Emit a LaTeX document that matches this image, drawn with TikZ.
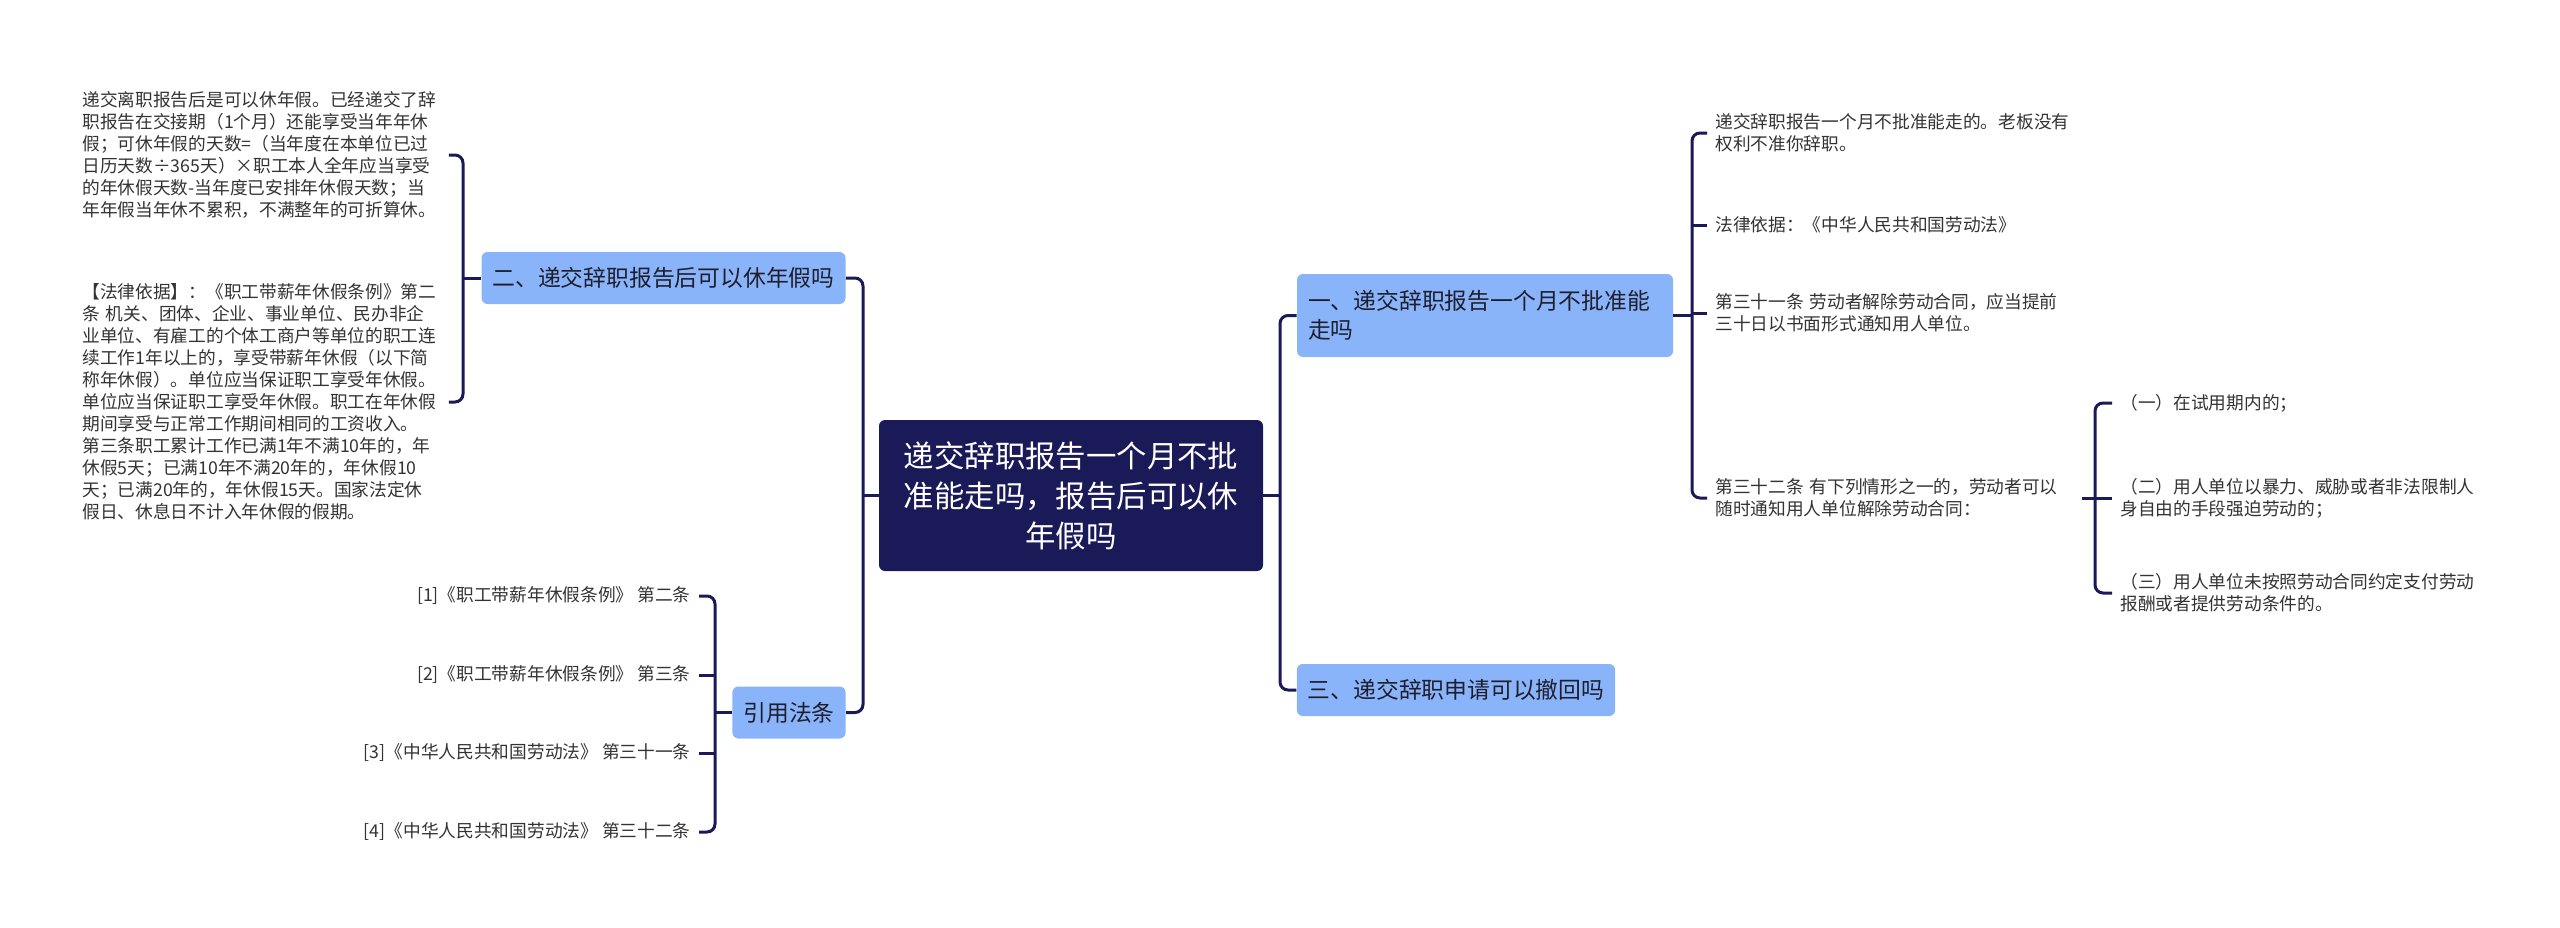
\documentclass[tikz,border=0pt]{standalone}
\usepackage{fontspec}
\setmainfont{Noto Sans CJK SC}
\definecolor{navy}{RGB}{27,26,88}
\definecolor{lblue}{RGB}{138,180,250}
\definecolor{ltxt}{RGB}{51,51,51}
\definecolor{btxt}{RGB}{30,30,45}
\begin{document}
\begin{tikzpicture}[x=0.5pt,y=-0.5pt,
  conn/.style={draw=navy,line width=1.5pt,rounded corners=4pt},
  rootbox/.style={fill=navy,draw=none,rounded corners=3pt,text=white,align=center,
    minimum width=192pt,minimum height=75.5pt,inner sep=0pt,
    font=\fontsize{15.2pt}{20pt}\selectfont},
  lvlbox/.style={fill=lblue,draw=none,rounded corners=3pt,text=btxt,
    minimum height=26pt,inner xsep=5.5pt,inner ysep=0pt,
    font=\fontsize{11.4pt}{14.5pt}\selectfont},
  leaf/.style={text=ltxt,align=left,text width=179pt,inner xsep=4pt,inner ysep=0pt,
    font=\fontsize{8.85pt}{11pt}\selectfont},
  cite/.style={text=ltxt,inner xsep=4pt,inner ysep=0pt,anchor=east,
    font=\fontsize{8.85pt}{11pt}\selectfont}
]
\useasboundingbox (0,0) rectangle (2560,927);
\fill[white] (0,0) rectangle (2560,927);

% trunk x positions
\coordinate (tL2) at (463,0);
\coordinate (tC) at (715,0);
\coordinate (tL1) at (863,0);
\coordinate (tR) at (1280,0);
\coordinate (tR1) at (1692,0);
\coordinate (tR2) at (2095,0);

% root
\node[rootbox] (root) at (1071,495.5) {递交辞职报告一个月不批\\准能走吗，报告后可以休\\年假吗};

% level 1
\node[lvlbox,minimum width=181.5pt] (er) at (663.5,278) {二、递交辞职报告后可以休年假吗};
\node[lvlbox,minimum width=56pt] (yy) at (789,712.5) {引用法条};
\node[lvlbox,minimum height=41.5pt,text width=177pt,align=left] (yi) at (1485,315.5) {一、递交辞职报告一个月不批准能\\走吗};
\node[lvlbox,minimum width=159pt] (san) at (1456,690) {三、递交辞职申请可以撤回吗};

% left leaves
\node[leaf,anchor=west] (lA) at (74,155) {递交离职报告后是可以休年假。已经递交了辞\\职报告在交接期（1个月）还能享受当年年休\\假；可休年假的天数=（当年度在本单位已过\\日历天数÷365天）×职工本人全年应当享受\\的年休假天数-当年度已安排年休假天数；当\\年年假当年休不累积，不满整年的可折算休。};
\node[leaf,anchor=west] (lB) at (74,402) {【法律依据】：《职工带薪年休假条例》第二\\条 机关、团体、企业、事业单位、民办非企\\业单位、有雇工的个体工商户等单位的职工连\\续工作1年以上的，享受带薪年休假（以下简\\称年休假）。单位应当保证职工享受年休假。\\单位应当保证职工享受年休假。职工在年休假\\期间享受与正常工作期间相同的工资收入。\\第三条职工累计工作已满1年不满10年的，年\\休假5天；已满10年不满20年的，年休假10\\天；已满20年的，年休假15天。国家法定休\\假日、休息日不计入年休假的假期。};

% citations
\node[cite] (c1) at (699,596) {[1]《职工带薪年休假条例》 第二条};
\node[cite] (c2) at (699,675) {[2]《职工带薪年休假条例》 第三条};
\node[cite] (c3) at (699,753) {[3]《中华人民共和国劳动法》 第三十一条};
\node[cite] (c4) at (699,832) {[4]《中华人民共和国劳动法》 第三十二条};

% right leaves
\node[leaf,anchor=west] (r1) at (1707,133) {递交辞职报告一个月不批准能走的。老板没有\\权利不准你辞职。};
\node[leaf,anchor=west] (r2) at (1707,225) {法律依据：《中华人民共和国劳动法》};
\node[leaf,anchor=west] (r3) at (1707,313) {第三十一条 劳动者解除劳动合同，应当提前\\三十日以书面形式通知用人单位。};
\node[leaf,anchor=west] (r4) at (1707,498) {第三十二条 有下列情形之一的，劳动者可以\\随时通知用人单位解除劳动合同：};

% sub leaves
\node[leaf,anchor=west] (s1) at (2112,403) {（一）在试用期内的；};
\node[leaf,anchor=west] (s2) at (2112,498) {（二）用人单位以暴力、威胁或者非法限制人\\身自由的手段强迫劳动的；};
\node[leaf,anchor=west] (s3) at (2112,593) {（三）用人单位未按照劳动合同约定支付劳动\\报酬或者提供劳动条件的。};

% connectors: left
\draw[conn] (lA.east) -- (lA.east -| tL2) -- (lB.east -| tL2) -- (lB.east);
\draw[conn] (er.west) -- (er.west -| tL2);

\draw[conn] (c1.east) -- (c1.east -| tC) -- (c4.east -| tC) -- (c4.east);
\draw[conn] (c2.east) -- (c2.east -| tC);
\draw[conn] (c3.east) -- (c3.east -| tC);
\draw[conn] (yy.west) -- (yy.west -| tC);

\draw[conn] (er.east) -- (er.east -| tL1) -- (yy.east -| tL1) -- (yy.east);
\draw[conn] (root.west) -- (root.west -| tL1);

% connectors: right
\draw[conn] (yi.west) -- (yi.west -| tR) -- (san.west -| tR) -- (san.west);
\draw[conn] (root.east) -- (root.east -| tR);

\draw[conn] (r1.west) -- (r1.west -| tR1) -- (r4.west -| tR1) -- (r4.west);
\draw[conn] (r2.west) -- (r2.west -| tR1);
\draw[conn] (r3.west) -- (r3.west -| tR1);
\draw[conn] (yi.east) -- (yi.east -| tR1);

\draw[conn] (s1.west) -- (s1.west -| tR2) -- (s3.west -| tR2) -- (s3.west);
\draw[conn] (s2.west) -- (s2.west -| tR2);
\draw[conn] (r4.east) -- (r4.east -| tR2);
\end{tikzpicture}
\end{document}
